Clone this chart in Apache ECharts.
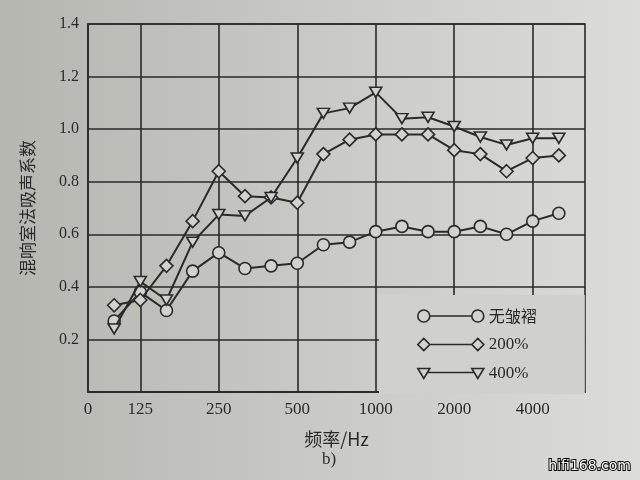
<!DOCTYPE html>
<html><head><meta charset="utf-8">
<script src="https://cdn.jsdelivr.net/npm/echarts@6/dist/echarts.min.js"></script>
<style>html,body{margin:0;padding:0;background:#c8c8c4}#c{width:640px;height:480px}</style>
</head><body><div id="c"></div>
<script>
const categories = ['80','100','125','160','200','250','315','400','500','630','800','1000','1250','1600','2000','2500','3150','4000','5000','6300'];
const tickLabels = {'80':'0','125':'125','250':'250','500':'500','1000':'1000','2000':'2000','4000':'4000'};
const yTicks = [0.2,0.4,0.6,0.8,1.0,1.2,1.4];
const seriesNames = ['无皱褶','200%','400%'];
const noFold  = [null,0.27,0.38,0.31,0.46,0.53,0.47,0.48,0.49,0.56,0.57,0.61,0.63,0.61,0.61,0.63,0.60,0.65,0.68,null];
const fold200 = [null,0.33,0.35,0.48,0.65,0.84,0.745,0.74,0.72,0.905,0.96,0.98,0.98,0.98,0.92,0.905,0.84,0.89,0.90,null];
const fold400 = [null,0.24,0.42,0.35,0.57,0.675,0.67,0.74,0.89,1.06,1.08,1.14,1.04,1.045,1.01,0.97,0.94,0.965,0.965,null];

const ink = '#2a2a2a';
const paper = '#d2d2ce';
const serif = '"Liberation Serif", "DejaVu Serif", serif';
const cjk = '"Noto Sans CJK SC", sans-serif';
const shown = (i) => tickLabels[categories[i]] !== undefined;

const icons = [
  'path://M0,6a6,6 0 1,0 12,0a6,6 0 1,0 -12,0z M12,6 L54,6 M54,6a6,6 0 1,0 12,0a6,6 0 1,0 -12,0z',
  'path://M0,6 L6,0 L12,6 L6,12 Z M12,6 L54,6 M54,6 L60,0 L66,6 L60,12 Z',
  'path://M0,1 L12,1 L6,11 Z M9,5 L57,5 M54,1 L66,1 L60,11 Z'
];
const symbols = ['circle','diamond','path://M0,0 L12,0 L6,10 Z'];
const sizes = [12,13,[12,10]];
const datas = [noFold, fold200, fold400];

const chart = echarts.init(document.getElementById('c'));
chart.setOption({
  backgroundColor: {type:'linear', x:0, y:0, x2:1, y2:0, colorStops:[{offset:0,color:'#b6b6b1'},{offset:0.5,color:'#c9c9c5'},{offset:1,color:'#dcdcd8'}]},
  animation: false,
  grid: {left:88, right:55, top:24, bottom:88, show:true, borderColor:ink, borderWidth:1.6, backgroundColor:'transparent'},
  xAxis: {
    type:'category', data:categories, boundaryGap:false,
    name:'频率/Hz', nameLocation:'middle', nameGap:38,
    nameTextStyle:{fontFamily:cjk, fontSize:18, color:ink},
    axisLine:{lineStyle:{color:ink, width:1.6}},
    axisTick:{show:false},
    axisLabel:{interval:(i)=>shown(i), formatter:(v)=>tickLabels[v]||'', fontFamily:serif, fontSize:17, color:ink, margin:9},
    splitLine:{show:true, interval:(i)=>shown(i) && i>0, lineStyle:{color:ink, width:1.6}}
  },
  yAxis: {
    type:'value', min:0, max:1.4, interval:0.2,
    name:'混响室法吸声系数', nameLocation:'middle', nameGap:52,
    nameTextStyle:{fontFamily:cjk, fontSize:17, color:ink},
    axisLine:{show:true, lineStyle:{color:ink, width:1.6}},
    axisTick:{show:false},
    axisLabel:{formatter:(v)=> yTicks.some(t=>Math.abs(t-v)<1e-6) ? v.toFixed(1) : '', fontFamily:serif, fontSize:16, color:ink, margin:9},
    splitLine:{show:true, lineStyle:{color:ink, width:1.6}}
  },
  legend: {
    orient:'vertical', left:379, top:295,
    padding:[13,48,12,38], itemGap:12,
    itemWidth:66, itemHeight:12,
    backgroundColor:'#d0d0cc',
    textStyle:{fontFamily:serif, fontSize:17, color:ink},
    itemStyle:{color:paper, borderColor:ink, borderWidth:1.6},
    data: seriesNames.map((n,i)=>({name:n, icon:icons[i], textStyle: i===0?{fontFamily:cjk, fontSize:16}:{}}))
  },
  series: seriesNames.map((n,i)=>({
    name:n, type:'line', data:datas[i],
    symbol:symbols[i], symbolSize:sizes[i], showAllSymbol:true,
    lineStyle:{color:ink, width:2},
    itemStyle:{color:paper, borderColor:ink, borderWidth:1.6},
    z: 3 + i
  })),
  graphic: [
    {type:'text', left:322, top:451, style:{text:'b)', font:'17px ' + serif, fill:ink}},
    {type:'text', right:8, top:458, style:{text:'hifi168.com', font:'14px "DejaVu Sans", sans-serif', fill:'#ffffff', stroke:'#000000', lineWidth:2}}
  ]
});
</script>
</body></html>
